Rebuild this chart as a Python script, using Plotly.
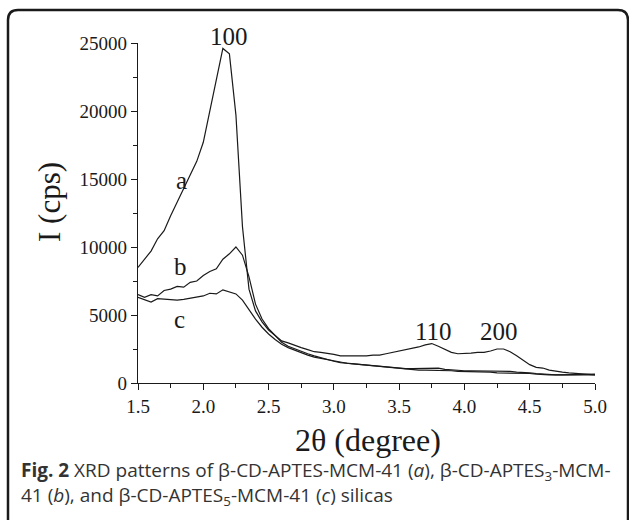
import numpy as np
import plotly.graph_objects as go

# 2theta grid (degree)
two_theta = [1.50, 1.55, 1.60, 1.65, 1.70, 1.75, 1.80, 1.85, 1.90, 1.95,
             2.00, 2.05, 2.10, 2.15, 2.20, 2.25, 2.30, 2.35, 2.40, 2.45,
             2.50, 2.55, 2.60, 2.65, 2.70, 2.75, 2.80, 2.85, 2.90, 2.95,
             3.00, 3.05, 3.10, 3.15, 3.20, 3.25, 3.30, 3.35, 3.40, 3.45,
             3.50, 3.55, 3.60, 3.65, 3.70, 3.75, 3.80, 3.85, 3.90, 3.95,
             4.00, 4.05, 4.10, 4.15, 4.20, 4.25, 4.30, 4.35, 4.40, 4.45,
             4.50, 4.55, 4.60, 4.65, 4.70, 4.75, 4.80, 4.85, 4.90, 4.95,
             5.00]

# (a) beta-CD-APTES-MCM-41
int_a = [8500, 9100, 9700, 10600, 11200, 12300, 13300, 14200, 15200, 16300,
         17700, 20000, 22300, 24600, 24200, 19700, 11500, 6900, 5300, 4500,
         3900, 3500, 3100, 2950, 2750, 2600, 2450, 2300, 2250, 2200,
         2100, 2000, 2000, 1950, 1950, 2000, 2050, 2050, 2150, 2250,
         2300, 2450, 2550, 2650, 2800, 2900, 2700, 2450, 2250, 2150,
         2150, 2200, 2250, 2250, 2350, 2500, 2500, 2300, 2000, 1650,
         1350, 1150, 1100, 950, 850, 800, 750, 700, 700, 650,
         600]

# (b) beta-CD-APTES3-MCM-41
int_b = [6500, 6300, 6500, 6400, 6800, 6900, 7100, 7050, 7400, 7500,
         7900, 8200, 8400, 9100, 9500, 10000, 9400, 7800, 5800, 4700,
         4000, 3500, 3000, 2700, 2500, 2300, 2150, 2000, 1850, 1700,
         1600, 1500, 1450, 1400, 1350, 1300, 1250, 1200, 1150, 1100,
         1100, 1050, 1050, 1050, 1050, 1050, 1100, 1000, 950, 950,
         900, 900, 900, 900, 850, 850, 850, 850, 800, 800,
         750, 700, 650, 600, 600, 600, 600, 600, 600, 600,
         650]

# (c) beta-CD-APTES5-MCM-41
int_c = [6300, 6100, 5950, 6200, 6150, 6100, 6100, 6150, 6250, 6300,
         6400, 6600, 6550, 6850, 6700, 6550, 6100, 5400, 4700, 4100,
         3600, 3200, 2850, 2600, 2400, 2200, 2050, 1900, 1800, 1700,
         1600, 1500, 1450, 1400, 1350, 1300, 1250, 1200, 1150, 1100,
         1050, 1000, 1000, 950, 950, 950, 900, 900, 900, 850,
         850, 800, 800, 800, 800, 750, 750, 750, 700, 700,
         700, 650, 600, 600, 600, 600, 600, 600, 600, 600,
         600]

curve_labels = ["a", "b", "c"]
curve_label_x = [1.835, 1.822, 1.814]
curve_label_y = [14900, 8550, 4680]

# reflection indices; "100" sits above the top of the axis
peak_labels = ["100", "110", "200"]
peak_x = [2.197, 3.761, 4.264]
peak_y = [25500, 3770, 3770]

W, H = 629, 520
L, R, T, B = 138, 34, 43, 137
PW, PH = W - L - R, H - T - B
Y_MAX = 25000


def px(x):
    return (x - L) / PW


def py(y):
    return (H - B - y) / PH


serif = "Liberation Serif, Times New Roman, serif"
sans = "Open Sans, sans-serif"
ink = "#1a1a1a"

fig = go.Figure()
for ys in [int_a, int_b, int_c]:
    fig.add_trace(go.Scatter(x=two_theta, y=ys, mode="lines",
                             line=dict(color=ink, width=1.2),
                             showlegend=False, hoverinfo="skip"))

annotations = []
for t, x, y in zip(curve_labels, curve_label_x, curve_label_y):
    annotations.append(dict(x=x, y=y, text=t, showarrow=False,
                            xanchor="center", yanchor="middle",
                            font=dict(family=serif, size=25, color=ink)))
for t, x, y in zip(peak_labels, peak_x, peak_y):
    # paper y so labels above the axis range are still drawn
    annotations.append(dict(x=x, y=y / Y_MAX, yref="paper", text=t,
                            showarrow=False,
                            xanchor="center", yanchor="middle",
                            font=dict(family=serif, size=25, color=ink)))

# axis titles
annotations.append(dict(xref="paper", yref="paper", x=px(49), y=py(202),
                        text="I (cps)", textangle=-90, showarrow=False,
                        xanchor="center", yanchor="middle",
                        font=dict(family=serif, size=31, color=ink)))
annotations.append(dict(xref="paper", yref="paper", x=px(368), y=py(440),
                        text="2θ (degree)", showarrow=False,
                        xanchor="center", yanchor="middle",
                        font=dict(family=serif, size=32, color=ink)))

# caption
annotations.append(dict(xref="paper", yref="paper", x=px(19), y=py(471),
                        xanchor="left", yanchor="middle", showarrow=False,
                        text="<b>Fig. 2</b> XRD patterns of β-CD-APTES-MCM-41 (<i>a</i>), β-CD-APTES<sub>3</sub>-MCM-",
                        font=dict(family=sans, size=19, color="#333333")))
annotations.append(dict(xref="paper", yref="paper", x=px(19), y=py(496),
                        xanchor="left", yanchor="middle", showarrow=False,
                        text="41 (<i>b</i>), and β-CD-APTES<sub>5</sub>-MCM-41 (<i>c</i>) silicas",
                        font=dict(family=sans, size=19, color="#333333")))

# rounded frame around the figure + caption
x0, x1, y0, y1, r = 8, 628, 10, 530, 10
frame = (f"M {px(x0)},{py(y1)} L {px(x0)},{py(y0 + r)} "
         f"Q {px(x0)},{py(y0)} {px(x0 + r)},{py(y0)} "
         f"L {px(x1 - r)},{py(y0)} Q {px(x1)},{py(y0)} {px(x1)},{py(y0 + r)} "
         f"L {px(x1)},{py(y1)}")

fig.update_layout(
    width=W, height=H,
    margin=dict(l=L, r=R, t=T, b=B),
    paper_bgcolor="white", plot_bgcolor="white",
    font=dict(family=serif, color=ink),
    annotations=annotations,
    shapes=[dict(type="path", xref="paper", yref="paper", path=frame,
                 line=dict(color=ink, width=2.5))],
)
fig.update_xaxes(range=[1.5, 5.0], dtick=0.5, tick0=1.5, tickformat=".1f",
                 showline=True, linecolor=ink, linewidth=1.2, showgrid=False,
                 zeroline=False, ticks="outside", ticklen=6, tickwidth=1.2,
                 tickcolor=ink,
                 minor=dict(dtick=0.25, ticks="outside", ticklen=4,
                            tickwidth=1.2, tickcolor=ink, showgrid=False),
                 tickfont=dict(family=serif, size=19, color=ink))
fig.update_yaxes(range=[0, Y_MAX], dtick=5000, tickformat="d",
                 showline=True, linecolor=ink, linewidth=1.2, showgrid=False,
                 zeroline=False, ticks="outside", ticklen=6, tickwidth=1.2,
                 tickcolor=ink,
                 minor=dict(dtick=2500, ticks="outside", ticklen=4,
                            tickwidth=1.2, tickcolor=ink, showgrid=False),
                 tickfont=dict(family=serif, size=19, color=ink))

fig.write_html("out.html", config={"displayModeBar": False},
               post_script="document.body.style.margin='0';")
